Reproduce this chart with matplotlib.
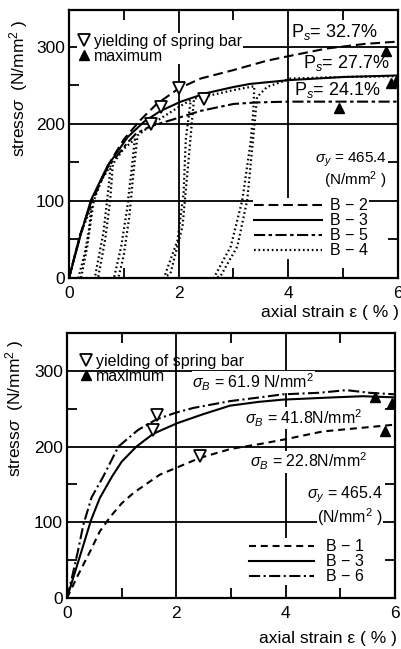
import matplotlib
matplotlib.use("Agg")
import matplotlib.pyplot as plt
from matplotlib.lines import Line2D

plt.rcParams['font.family'] = ['Liberation Sans', 'DejaVu Sans']
plt.rcParams['mathtext.fontset'] = 'custom'
plt.rcParams['mathtext.rm'] = 'Liberation Sans'
plt.rcParams['mathtext.it'] = 'Liberation Sans:italic'
plt.rcParams['mathtext.bf'] = 'Liberation Sans:bold'
plt.rcParams['lines.scale_dashes'] = False

# ---------------- data: top panel ----------------
B2_x = [0, 0.2, 0.4, 0.7, 1.0, 1.3, 1.6, 2.0, 2.4, 3.0, 3.6, 4.0, 4.7, 5.4, 6.0]
B2_y = [0, 55, 98, 145, 180, 205, 226, 246, 259, 270, 282, 288, 298, 304, 307]

B3_x = [0, 0.22, 0.4, 0.7, 1.07, 1.37, 1.67, 2.04, 2.5, 3.0, 3.3, 4.02, 5.0, 6.0]
B3_y = [0, 58, 101, 145, 183, 203, 217, 229, 240, 248, 252, 257, 261, 263]

B5_x = [0, 0.2, 0.4, 0.7, 1.07, 1.23, 1.49, 2.04, 2.4, 3.0, 3.43, 4.0, 6.0]
B5_y = [0, 55, 97, 143, 176, 188, 197, 209, 217, 226, 228, 229, 229]

B4_x = [0, 0.2, 0.41, 0.36, 0.28, 0.17, 0.22, 0.33, 0.40, 0.45, 0.6, 0.76,
        0.71, 0.63, 0.47, 0.53, 0.66, 0.75, 0.80, 1.0, 1.2,
        1.14, 1.06, 0.95, 0.82, 0.9, 1.0, 1.1, 1.18, 1.25, 1.6, 2.0, 2.22,
        2.13, 2.09, 1.98, 1.73, 1.85, 2.07, 2.18, 2.28, 2.44, 3.0, 3.38,
        3.36, 3.31, 3.16, 2.95, 2.64, 2.76, 3.07, 3.25, 3.35, 3.43, 3.61, 4.04, 5.0, 6.0]
B4_y = [0, 55, 93, 60, 30, 0, 0, 40, 75, 100, 128, 146,
        110, 60, 0, 0, 50, 100, 148, 168, 180,
        140, 90, 40, 0, 0, 30, 80, 140, 185, 204, 222, 231,
        180, 110, 49, 0, 6, 67, 153, 233, 235, 244, 249,
        215, 175, 101, 41, 0, 2, 41, 101, 175, 235, 248, 259, 261, 262]

top_yield_x = [2.0, 1.67, 1.49, 2.46]
top_yield_y = [247, 222, 200, 233]
top_max_x = [5.78, 5.88, 5.97, 4.93]
top_max_y = [295, 253, 256, 221]

top_ps_labels = ["P$_s$= 32.7%", "P$_s$= 27.7%", "P$_s$= 24.1%"]
top_ps_x = [4.04, 4.27, 4.1]
top_ps_y = [319, 279, 244]
top_series_labels = ["B − 2", "B − 3", "B − 5", "B − 4"]

# ---------------- data: bottom panel ----------------
B1_x = [0, 0.2, 0.44, 0.6, 0.8, 1.0, 1.22, 1.7, 2.0, 2.43, 3.0, 3.5, 3.95, 4.68, 5.72, 6.0]
B1_y = [0, 30, 64, 88, 108, 125, 139, 163, 172, 185, 197, 203, 209, 220, 227, 229]

B3b_x = [0, 0.15, 0.3, 0.44, 0.6, 0.82, 1.0, 1.27, 1.58, 2.02, 2.5, 2.98, 3.5, 3.95, 4.88, 5.41, 6.0]
B3b_y = [0, 35, 70, 103, 132, 160, 180, 200, 217, 231, 243, 254, 259, 262, 265, 266.5, 265]

B6_x = [0, 0.1, 0.2, 0.3, 0.45, 0.66, 0.94, 1.3, 1.64, 2.0, 2.31, 2.98, 3.53, 3.95, 4.6, 5.11, 5.54, 6.0]
B6_y = [0, 30, 62, 97, 133, 160, 200, 222, 236, 245, 251, 260, 265, 269, 271, 274.5, 271, 269]

bot_yield_x = [1.64, 1.58, 2.43]
bot_yield_y = [242, 222, 187]
bot_max_x = [5.63, 5.94, 5.81]
bot_max_y = [265, 258, 220]

bot_sb_labels = ["$\\sigma_B$ = 61.9 N/mm$^2$", "$\\sigma_B$ = 41.8N/mm$^2$", "$\\sigma_B$ = 22.8N/mm$^2$"]
bot_sb_x = [2.29, 3.25, 3.35]
bot_sb_y = [285, 238, 180]
bot_series_labels = ["B − 1", "B − 3", "B − 6"]

x_ticks = [0, 2, 4, 6]
y_ticks = [0, 100, 200, 300]
x_minor = [1, 3, 5]
y_minor = [50, 150, 250]

# ---------------- styles ----------------
LW = 1.5
DASH = (0, (7, 3.5))
DASHDOT = (0, (8, 2.5, 2.5, 2.5))
DOT = (0, (1.2, 2.0))
DASH_B1 = (0, (5, 3.5))
DASHDOT_B6 = (0, (8, 2.5, 1.5, 2.5))

fig = plt.figure(figsize=(4.02, 6.49), dpi=100)
ax1 = fig.add_axes([69/402, 1-278/649, 329/402, 268/649])
ax2 = fig.add_axes([67/402, 1-598/649, 328/402, 265/649])


def style_axes(ax, ytop):
    ax.set_xlim(0, 6)
    ax.set_ylim(0, ytop)
    ax.set_xticks(x_ticks)
    ax.set_yticks(y_ticks)
    ax.set_xticks(x_minor, minor=True)
    ax.set_yticks(y_minor, minor=True)
    ax.tick_params(which='major', length=0, labelsize=12.5)
    ax.tick_params(axis='x', which='major', pad=6)
    ax.tick_params(axis='y', which='major', pad=3)
    ax.tick_params(which='minor', direction='in', length=7, width=1.3,
                   top=True, right=True, bottom=True, left=True)
    ax.grid(which='major', color='black', lw=1.3, zorder=1)
    ax.set_axisbelow(True)
    for s in ax.spines.values():
        s.set_linewidth(1.6)


style_axes(ax1, 348)
style_axes(ax2, 350)

TXT_BOX = dict(facecolor='white', edgecolor='none', pad=0.3)

# ---- top panel curves ----
ax1.plot(B2_x, B2_y, color='k', lw=LW, ls=DASH, zorder=3)
ax1.plot(B3_x, B3_y, color='k', lw=LW, ls='-', zorder=3)
ax1.plot(B5_x, B5_y, color='k', lw=LW, ls=DASHDOT, zorder=3)
ax1.plot(B4_x, B4_y, color='k', lw=1.6, ls=DOT, zorder=3)
ax1.plot(top_yield_x, top_yield_y, ls='none', marker='v', ms=8, mfc='white',
         mec='k', mew=1.3, zorder=4)
ax1.plot(top_max_x, top_max_y, ls='none', marker='^', ms=7, mfc='k',
         mec='k', zorder=4)

for lab, x, y in zip(top_ps_labels, top_ps_x, top_ps_y):
    ax1.text(x, y, lab, fontsize=13, ha='left', va='center', zorder=2.5, bbox=TXT_BOX)
ax1.text(5.8, 154, "$\\sigma_y$ = 465.4", fontsize=11, ha='right', va='center',
         zorder=2.5, bbox=TXT_BOX)
ax1.text(5.8, 127, "(N/mm$^2$ )", fontsize=11, ha='right', va='center',
         zorder=2.5)

mk_handles = [Line2D([], [], ls='none', marker='v', ms=8, mfc='white', mec='k', mew=1.3),
              Line2D([], [], ls='none', marker='^', ms=7, mfc='k', mec='k')]
mk_labels = ["yielding of spring bar", "maximum"]

leg1a = ax1.legend(mk_handles, mk_labels, loc='upper left', bbox_to_anchor=(0.023, 0.915),
                   fontsize=11.5, handlelength=0.8, handletextpad=0.25, labelspacing=0.0,
                   borderpad=0.05, borderaxespad=0, frameon=True, fancybox=False,
                   facecolor='white', edgecolor='none', framealpha=1)
leg1a.set_zorder(2)
ax1.add_artist(leg1a)

top_handles = [Line2D([], [], color='k', lw=LW, ls=DASH),
               Line2D([], [], color='k', lw=LW, ls='-'),
               Line2D([], [], color='k', lw=LW, ls=DASHDOT),
               Line2D([], [], color='k', lw=1.6, ls=DOT)]
leg1b = ax1.legend(top_handles, top_series_labels, loc='upper left',
                   bbox_to_anchor=(0.559, 0.30), fontsize=11.5, handlelength=4.3,
                   handletextpad=0.5, labelspacing=0.0, borderpad=0.05, borderaxespad=0,
                   frameon=True, fancybox=False, facecolor='white', edgecolor='none',
                   framealpha=1)
leg1b.set_zorder(2)

# ---- bottom panel curves ----
ax2.plot(B1_x, B1_y, color='k', lw=LW, ls=DASH_B1, zorder=3)
ax2.plot(B3b_x, B3b_y, color='k', lw=LW, ls='-', zorder=3)
ax2.plot(B6_x, B6_y, color='k', lw=LW, ls=DASHDOT_B6, zorder=3)
ax2.plot(bot_yield_x, bot_yield_y, ls='none', marker='v', ms=8, mfc='white',
         mec='k', mew=1.3, zorder=4)
ax2.plot(bot_max_x, bot_max_y, ls='none', marker='^', ms=7, mfc='k',
         mec='k', zorder=4)

for lab, x, y in zip(bot_sb_labels, bot_sb_x, bot_sb_y):
    ax2.text(x, y, lab, fontsize=11.5, ha='left', va='center', zorder=2.5, bbox=TXT_BOX)
ax2.text(5.78, 136, "$\\sigma_y$ = 465.4", fontsize=11.5, ha='right', va='center',
         zorder=2.5, bbox=TXT_BOX)
ax2.text(5.78, 107, "(N/mm$^2$ )", fontsize=11.5, ha='right', va='center',
         zorder=2.5, bbox=TXT_BOX)

leg2a = ax2.legend(mk_handles, mk_labels, loc='upper left', bbox_to_anchor=(0.035, 0.925),
                   fontsize=11.5, handlelength=0.8, handletextpad=0.25, labelspacing=0.0,
                   borderpad=0.05, borderaxespad=0, frameon=False)
leg2a.set_zorder(2)
ax2.add_artist(leg2a)

bot_handles = [Line2D([], [], color='k', lw=LW, ls=DASH_B1),
               Line2D([], [], color='k', lw=LW, ls='-'),
               Line2D([], [], color='k', lw=LW, ls=DASHDOT_B6)]
leg2b = ax2.legend(bot_handles, bot_series_labels, loc='upper left',
                   bbox_to_anchor=(0.552, 0.225), fontsize=11.5, handlelength=4.1,
                   handletextpad=0.7, labelspacing=0.0, borderpad=0.05, borderaxespad=0,
                   frameon=True, fancybox=False, facecolor='white', edgecolor='none',
                   framealpha=1)
leg2b.set_zorder(2)

# ---- axis labels ----
fig.text(19/402, 1-88/649, "stress$\\sigma$  (N/mm$^2$ )", rotation=90, fontsize=12.5,
         ha='center', va='center')
fig.text(15/402, 1-408/649, "stress$\\sigma$  (N/mm$^2$ )", rotation=90, fontsize=12.5,
         ha='center', va='center')
fig.text(399/402, 1-313/649, "axial strain ε ( % )", fontsize=12.5, ha='right', va='center')
fig.text(397/402, 1-638/649, "axial strain ε ( % )", fontsize=12.5, ha='right', va='center')

fig.savefig("out.png", dpi=100, facecolor='white')
